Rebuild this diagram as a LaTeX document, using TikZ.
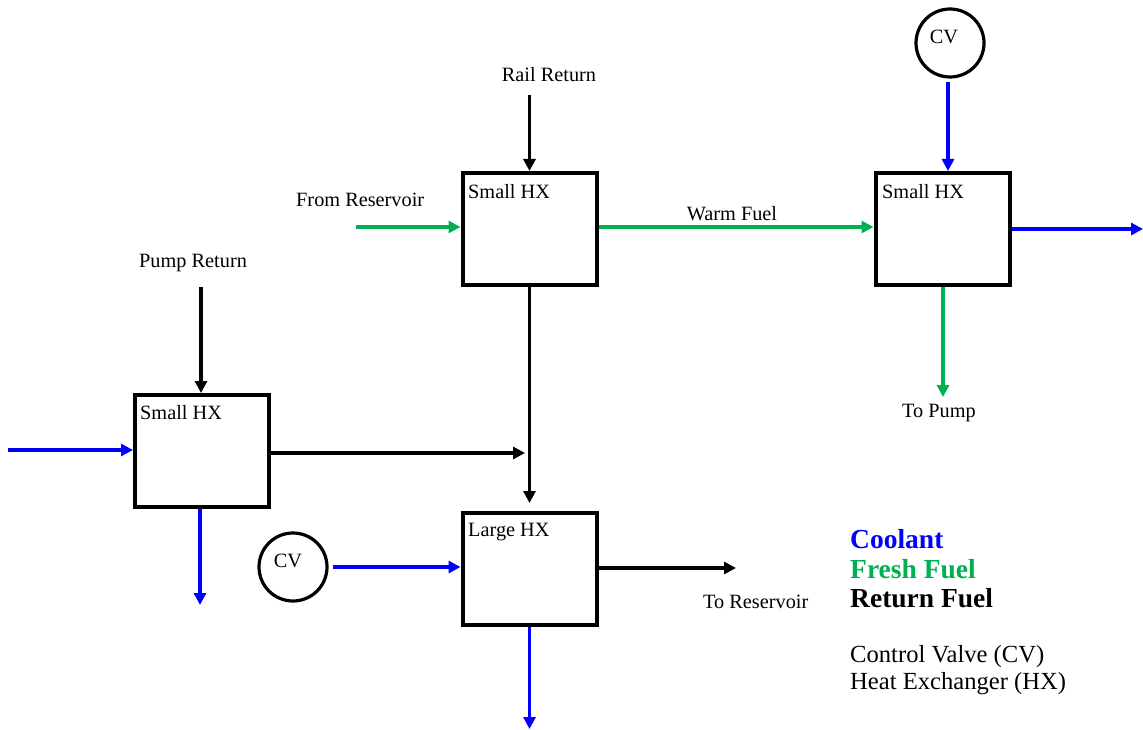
\documentclass[tikz,border=0pt]{standalone}
\usepackage{fontspec}
\setmainfont{Liberation Serif}
\usetikzlibrary{arrows.meta}
\definecolor{cool}{RGB}{0,0,255}
\definecolor{fresh}{RGB}{0,176,80}
\begin{document}
\begin{tikzpicture}[x=1pt,y=-1pt,
  hx/.style={draw, line width=4pt, minimum width=134pt, minimum height=112pt, inner sep=0pt},
  cv/.style={draw, circle, line width=3.2pt, minimum size=68pt, inner sep=0pt},
  lbl/.style={font=\fontsize{20.3}{22}\selectfont, inner sep=0pt},
  flow/.style={line width=3.3pt, -{Triangle[length=12pt,width=12pt]}},
  coolflow/.style={flow, draw=cool, color=cool},
  freshflow/.style={flow, draw=fresh, color=fresh},
  retflow/.style={flow, draw=black},
  legb/.style={font=\fontsize{27.5}{29}\selectfont\bfseries, inner sep=0pt, anchor=west},
  legr/.style={font=\fontsize{24.6}{26}\selectfont, inner sep=0pt, anchor=west}]
\useasboundingbox (0,0) rectangle (1143,730);

% boxes
\node[hx] (A) at (529.5,229) {};
\node[hx] (B) at (942.5,229) {};
\node[hx] (C) at (202,451) {};
\node[hx] (D) at (529.5,569) {};
\node[lbl, anchor=west] (At) at (468,192) {Small HX};
\node[lbl, anchor=west] (Bt) at (882,192) {Small HX};
\node[lbl, anchor=west] (Ct) at (140,413) {Small HX};
\node[lbl, anchor=west] (Dt) at (468,532) {Large HX};

% control valves
\node[cv] (V1) at (950,43) {};
\node[lbl] (V1t) at (944,37) {CV};
\node[cv] (V2) at (293,567) {};
\node[lbl] (V2t) at (288,561) {CV};

% labels
\node[lbl] (rr) at (549,75) {Rail Return};
\node[lbl, anchor=west] (fr) at (296,200) {From Reservoir};
\node[lbl] (wf) at (732,214) {Warm Fuel};
\node[lbl, anchor=west] (pr) at (139,263) {Pump Return};
\node[lbl, anchor=west] (tp) at (902,413) {To Pump};
\node[lbl, anchor=west] (tr) at (703,602) {To Reservoir};

% coordinates for free ends
\coordinate (rrS) at (529.5,95);
\coordinate (frS) at (356,227);
\coordinate (prS) at (201,287);
\coordinate (cinS) at (8,450);
\coordinate (coutE) at (200,605);
\coordinate (joinE) at (525,453);
\coordinate (dnE) at (529.5,503);
\coordinate (trE) at (736,568);
\coordinate (ddE) at (529.5,729);
\coordinate (tpE) at (943,397);
\coordinate (brE) at (1143,229);

% return fuel
\draw[retflow] (rrS) -- (A.north);
\draw[retflow] (prS) -- (prS |- C.north);
\draw[retflow] (A.south) -- (dnE);
\draw[retflow] (C.east |- joinE) -- (joinE);
\draw[retflow] (D.east |- trE) -- (trE);

% fresh fuel
\draw[freshflow] (frS) -- (frS -| A.west);
\draw[freshflow] (A.east |- frS) -- (B.west |- frS);
\draw[freshflow] (tpE |- B.south) -- (tpE);

% coolant
\draw[coolflow, shorten <=3pt] (V1.south -| 948,0) -- (B.north -| 948,0);
\draw[coolflow] (B.east) -- (brE);
\draw[coolflow] (cinS) -- (cinS -| C.west);
\draw[coolflow] (coutE |- C.south) -- (coutE);
\draw[coolflow, shorten <=4pt] (V2.east) -- (D.west |- V2.east);
\draw[coolflow] (D.south) -- (ddE);

% legend
\node[legb, text=cool] (l1) at (850,539) {Coolant};
\node[legb, text=fresh] (l2) at (850,569) {Fresh Fuel};
\node[legb, text=black] (l3) at (850,598) {Return Fuel};
\node[legr] (l4) at (850,657) {Control Valve (CV)};
\node[legr] (l5) at (850,684) {Heat Exchanger (HX)};
\end{tikzpicture}
\end{document}
